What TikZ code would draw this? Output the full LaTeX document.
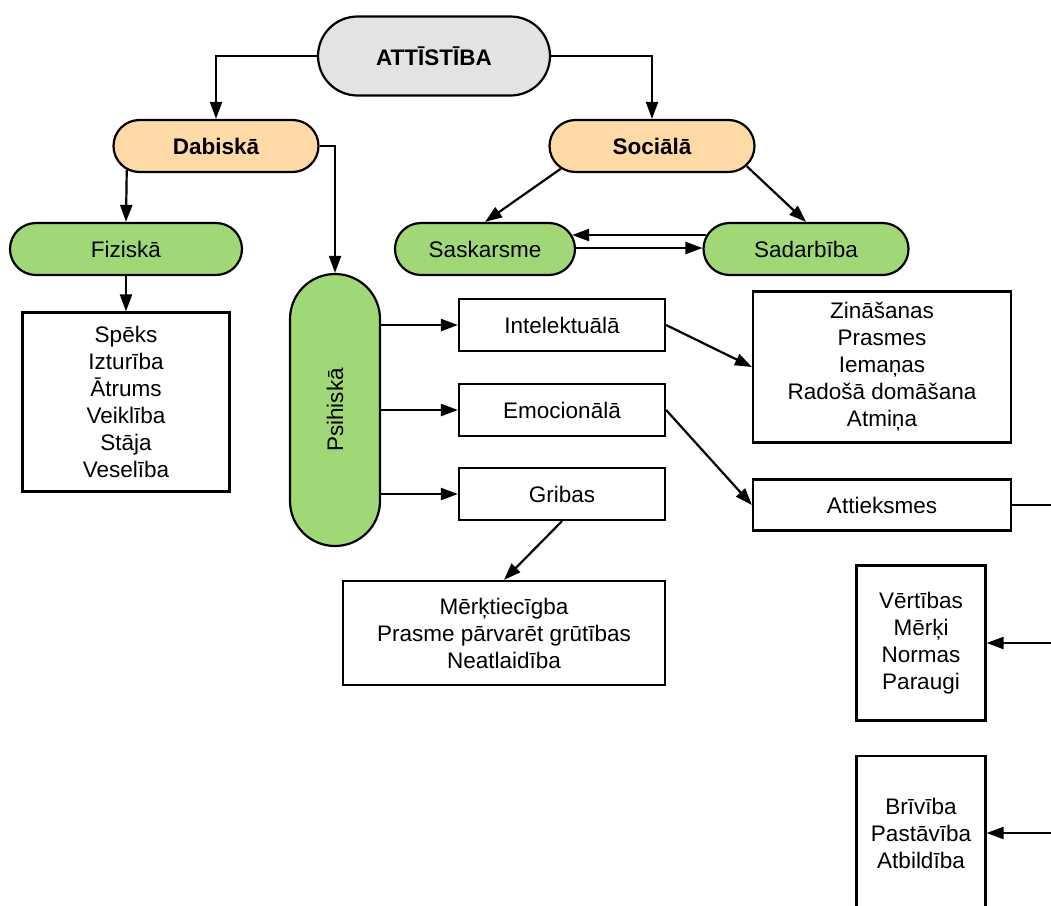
\documentclass[tikz,border=0pt]{standalone}
\usepackage{fontspec}
\setmainfont{Liberation Sans}
\usetikzlibrary{arrows.meta,shapes.misc}

\definecolor{rootgray}{RGB}{227,227,227}
\definecolor{peach}{RGB}{255,217,166}
\definecolor{leafgreen}{RGB}{160,216,120}

\tikzset{
    line/.style={line width=2.2pt},
    arr/.style={line, -{Triangle[length=17pt,width=12pt]}},
    base/.style={draw, line, inner sep=0pt, align=center, font=\fontsize{22.5}{27}\selectfont},
    rootnode/.style={base, rounded rectangle, fill=rootgray, font=\fontsize{22.5}{27}\selectfont\bfseries, minimum width=232pt, minimum height=79pt},
    branch/.style={base, rounded rectangle, fill=peach, font=\fontsize{22.5}{27}\selectfont\bfseries, minimum width=205pt, minimum height=52pt},
    leaf/.style={base, rounded rectangle, fill=leafgreen, minimum height=52pt},
    box/.style={base, rectangle}
}

\begin{document}
\begin{tikzpicture}[x=1pt, y=-1pt]
                \useasboundingbox (0,0) rectangle (1051,905);
                \clip (0,0) rectangle (1051,905);
                \coordinate (rt) at (1051,0);
                \node[rootnode] (top) at (434,56) {ATTĪSTĪBA};
                \node[branch] (dab) at (216,146) {Dabiskā};
                \node[branch] (soc) at (652,146) {Sociālā};
                \node[leaf, minimum width=232pt] (fiz) at (126,249) {Fiziskā};
                \node[leaf, minimum width=180pt] (sask) at (485,249) {Saskarsme};
                \node[leaf, minimum width=205pt] (sad) at (806,249) {Sadarbība};
                \node[leaf, rotate=90, minimum width=272pt, minimum height=90pt] (psy) at (335,410) {Psihiskā};
                \node[box, minimum width=207pt, minimum height=179pt] (spek) at (126,402)
                {Spēks\\Izturība\\Ātrums\\Veiklība\\Stāja\\Veselība};
                \node[box, minimum width=206pt, minimum height=52pt] (intel) at (562,325) {Intelektuālā};
                \node[box, minimum width=206pt, minimum height=52pt] (emo) at (562,410) {Emocionālā};
                \node[box, minimum width=206pt, minimum height=52pt] (grib) at (562,494) {Gribas};
                \node[box, minimum width=322pt, minimum height=104pt] (merk) at (504,633)
                {Mērķtiecīgba\\Prasme pārvarēt grūtības\\Neatlaidība};
                \node[box, minimum width=258pt, minimum height=151pt] (zin) at (882,367)
                {Zināšanas\\Prasmes\\Iemaņas\\Radošā domāšana\\Atmiņa};
                \node[box, minimum width=258pt, minimum height=51pt] (att) at (882,505) {Attieksmes};
                \node[box, minimum width=129pt, minimum height=155pt] (vert) at (921,643)
                {Vērtības\\Mērķi\\Normas\\Paraugi};
                \node[box, minimum width=129pt, minimum height=154pt] (briv) at (921,833)
                {Brīvība\\Pastāvība\\Atbildība};
                \draw[arr] (top.west) -| (dab.north);
                \draw[arr] (top.east) -| (soc.north);
                \draw[arr] (dab.195) -- (fiz.north);
                \draw[arr] (dab.east) -| (psy.east);
                \draw[arr] (soc.194) -- (sask.north);
                \draw[arr] (soc.-12) -- (sad.north);
                \draw[arr] ([xshift=4pt, yshift=14pt]sad.west) -- ([xshift=-4pt, yshift=14pt]sask.east);
                \draw[arr] ([yshift=1pt]sask.east) -- ([yshift=1pt]sad.west);
                \draw[arr] (fiz.south) -- (spek.north);
                \draw[arr] (psy.south |- intel.west) -- (intel.west);
                \draw[arr] (psy.south |- emo.west) -- (emo.west);
                \draw[arr] (psy.south |- grib.west) -- (grib.west);
                \draw[arr] (intel.east) -- (zin.west);
                \draw[arr] (emo.east) -- (att.west);
                \draw[arr] (grib.south) -- (merk.north);
                \draw[line] (att.east) -- (att.east -| rt);
                \draw[arr] (vert.east -| rt) -- (vert.east);
                \draw[arr] (briv.east -| rt) -- (briv.east);
\end{tikzpicture}
\end{document}
